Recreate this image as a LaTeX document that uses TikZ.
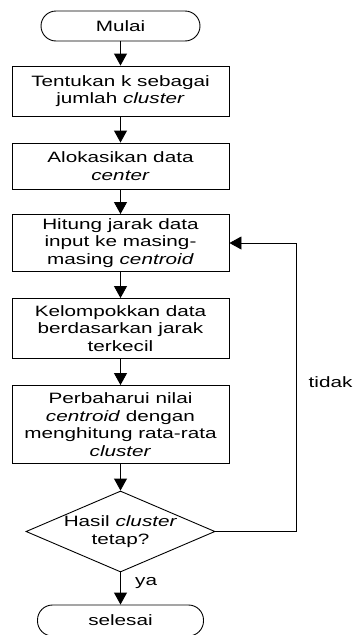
\documentclass[tikz,border=0pt]{standalone}
\usepackage{fontspec}
\setmainfont{Liberation Sans}[FakeStretch=1.38]
\usetikzlibrary{shapes.geometric,arrows.meta}
\begin{document}
\begin{tikzpicture}[x=1pt,y=-1pt,
  every node/.style={font=\fontsize{15}{17.5}\selectfont},
  procbox/.style={draw,line width=0.9pt,minimum width=217pt,inner sep=0pt,align=center},
  term/.style={draw,line width=0.9pt,rounded corners=15pt,inner sep=0pt,align=center},
  flow/.style={line width=0.9pt,-{Triangle[width=13pt,length=12pt]}},
  plain/.style={line width=0.9pt}
]
\useasboundingbox (0,0) rectangle (353,635);
\node[term,minimum width=159pt,minimum height=30pt] (start) at (120.5,26) {Mulai};
\node[procbox,minimum height=50pt] (b1) at (120.5,91) {Tentukan k sebagai\\jumlah \textit{cluster}};
\node[procbox,minimum height=46pt] (b2) at (120.5,166) {Alokasikan data\\\textit{center}};
\node[procbox,minimum height=57pt] (b3) at (120.5,243) {Hitung jarak data\\input ke masing-\\masing \textit{centroid}};
\node[procbox,minimum height=60pt] (b4) at (120.5,328.5) {Kelompokkan data\\berdasarkan jarak\\terkecil};
\node[procbox,minimum height=78pt] (b5) at (120.5,424.5) {Perbaharui nilai\\\textit{centroid} dengan\\menghitung rata-rata\\\textit{cluster}};
\node[draw,diamond,line width=0.9pt,minimum width=189pt,minimum height=81pt,inner sep=0pt] (dec) at (120.5,531.5) {};
\node[align=center,inner sep=0pt] (dectext) at (dec.center) {Hasil \textit{cluster}\\tetap?};
\node[term,minimum width=166pt,minimum height=31pt] (end) at (120.5,620.5) {selesai};
\coordinate (c1) at (296,531.5);
\coordinate (c2) at (296,243);
\draw[flow] (start) -- (b1);
\draw[flow] (b1) -- (b2);
\draw[flow] (b2) -- (b3);
\draw[flow] (b3) -- (b4);
\draw[flow] (b4) -- (b5);
\draw[flow] (b5) -- (dec);
\draw[flow] (dec.south) -- (end);
\draw[flow] (dec.east) -- (c1) -- (c2) -- (b3.east);
\node[anchor=west,inner sep=0pt] (ya) at (135,583) {ya};
\node[anchor=west,inner sep=0pt] (tidak) at (308.5,382) {tidak};
\end{tikzpicture}
\end{document}
